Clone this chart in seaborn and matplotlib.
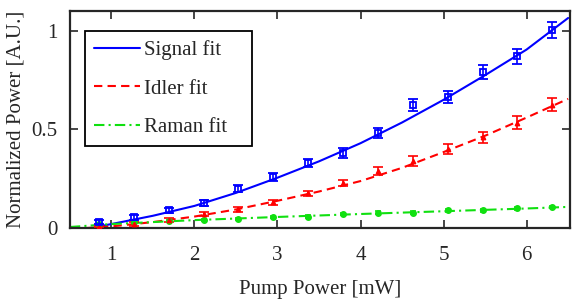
import numpy as np
import pandas as pd
import seaborn as sns
import matplotlib
matplotlib.use('Agg')
import matplotlib.pyplot as plt

# measured points (pump power in mW, normalized power)
pump = [0.85, 1.27, 1.69, 2.11, 2.53, 2.95, 3.37, 3.79, 4.21, 4.63, 5.05, 5.47, 5.89, 6.31]
signal = [0.03, 0.055, 0.09, 0.125, 0.20, 0.258, 0.33, 0.38, 0.48, 0.625, 0.665, 0.79, 0.87, 1.005]
signal_err = [0.012, 0.012, 0.013, 0.015, 0.018, 0.02, 0.022, 0.025, 0.025, 0.03, 0.032, 0.036, 0.037, 0.04]
idler = [0.01, 0.02, 0.04, 0.07, 0.095, 0.13, 0.177, 0.227, 0.29, 0.34, 0.40, 0.46, 0.535, 0.626]
idler_err = [0.006, 0.008, 0.01, 0.01, 0.012, 0.012, 0.013, 0.015, 0.02, 0.027, 0.025, 0.028, 0.032, 0.035]
raman = [0.02, 0.03, 0.035, 0.04, 0.045, 0.055, 0.058, 0.07, 0.078, 0.078, 0.09, 0.09, 0.10, 0.106]
raman_err = [0.006, 0.006, 0.006, 0.006, 0.006, 0.006, 0.006, 0.006, 0.006, 0.007, 0.007, 0.007, 0.007, 0.007]

# fit curves
signal_fit_x = [0.9, 1.0, 1.5, 2.0, 2.5, 3.0, 3.5, 4.0, 4.5, 5.0, 5.5, 6.0, 6.5]
signal_fit_y = [0.012, 0.02, 0.062, 0.112, 0.178, 0.255, 0.338, 0.43, 0.535, 0.65, 0.775, 0.905, 1.065]
idler_fit_x = [0.7, 1.0, 1.5, 2.0, 2.5, 3.0, 3.5, 4.0, 4.5, 5.0, 5.5, 6.0, 6.5]
idler_fit_y = [0.0, 0.008, 0.03, 0.058, 0.094, 0.138, 0.185, 0.238, 0.305, 0.385, 0.468, 0.56, 0.655]
raman_fit_x = [0.5, 1.0, 2.0, 3.0, 4.0, 5.0, 6.0, 6.5]
raman_fit_y = [0.005, 0.02, 0.04, 0.056, 0.071, 0.085, 0.099, 0.107]

sns.set_style("ticks")
plt.rcParams['font.family'] = ['Liberation Serif', 'DejaVu Serif']
plt.rcParams['font.size'] = 15
plt.rcParams['xtick.direction'] = 'in'
plt.rcParams['ytick.direction'] = 'in'

fig = plt.figure(figsize=(5.82, 3.0), dpi=100)
ax = fig.add_axes([0.120, 0.24, 0.859, 0.723])

blue, red, green = '#0000ff', '#ff0000', '#10e010'

fits = pd.concat([
    pd.DataFrame({'x': signal_fit_x, 'y': signal_fit_y, 'fit': 'Signal fit'}),
    pd.DataFrame({'x': idler_fit_x, 'y': idler_fit_y, 'fit': 'Idler fit'}),
    pd.DataFrame({'x': raman_fit_x, 'y': raman_fit_y, 'fit': 'Raman fit'}),
])
sns.lineplot(data=fits, x='x', y='y', hue='fit', style='fit',
             palette=[blue, red, green],
             dashes=[(None, None), (4, 2.5), (5, 2, 1, 2)],
             linewidth=1.5, sort=False, ax=ax, zorder=2)

ax.errorbar(pump, raman, yerr=raman_err, fmt='o', color=green, ms=4,
            capsize=2.5, elinewidth=1.2, capthick=1.2, zorder=3)
ax.errorbar(pump, idler, yerr=idler_err, fmt='^', color=red, ms=3.2,
            capsize=3.5, elinewidth=1.2, capthick=1.2, zorder=3)
ax.errorbar(pump, signal, yerr=signal_err, fmt='s', color=blue, ms=5,
            mfc='none', mew=1.3, capsize=3.5, elinewidth=1.2, capthick=1.2, zorder=4)

ax.set_xlim(0.5, 6.52)
ax.set_ylim(0, 1.1)
ax.set_xticks([1, 2, 3, 4, 5, 6])
ax.set_yticks([0, 0.5, 1])
ax.set_yticklabels(['0', '0.5', '1'])
ax.tick_params(top=True, right=True, length=6, width=1.2, labelsize=15)
ax.tick_params(axis='x', pad=13)
ax.tick_params(axis='y', pad=9)
for sp in ax.spines.values():
    sp.set_linewidth(1.6)
ax.set_xlabel('Pump Power [mW]', fontsize=15, labelpad=11)
ax.set_ylabel('Normalized Power [A.U.]', fontsize=15, labelpad=4)

leg = ax.legend(loc='upper left', bbox_to_anchor=(0.03, 0.387, 0.334, 0.521),
                mode='expand', frameon=True,
                fancybox=False, edgecolor='black', framealpha=1,
                fontsize=15, handlelength=2.2, handletextpad=0.2,
                labelspacing=0.9, borderpad=0.45, borderaxespad=0)
leg.get_frame().set_linewidth(1.3)

fig.savefig('out.png', dpi=100)
